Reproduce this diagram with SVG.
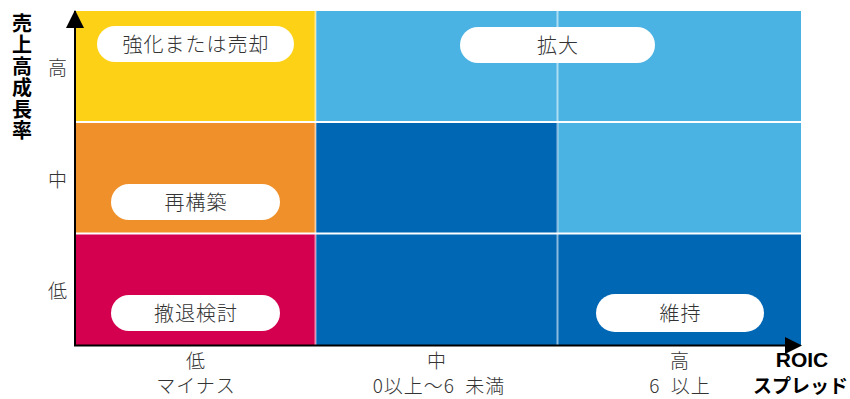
<svg xmlns="http://www.w3.org/2000/svg" width="850" height="399" viewBox="0 0 850 399">
<defs>
<style>
text{font-family:"Noto Sans CJK JP","Noto Sans",sans-serif;fill:#333;font-weight:300;}
.pill{fill:#fff;}
.pl{font-size:20px;letter-spacing:1px;text-anchor:middle;}
.ax{font-size:19px;letter-spacing:1px;text-anchor:middle;}
.ttl{font-weight:bold;fill:#000;}
.sep{stroke:#fff;stroke-width:2;}
.vsep{stroke:#fff;stroke-opacity:0.55;stroke-width:2;}
</style>
</defs>
<g id="cells">
<rect x="75" y="11" width="241" height="112" fill="#FDD116"/>
<rect x="316" y="11" width="242" height="112" fill="#4BB3E3"/>
<rect x="558" y="11" width="243" height="112" fill="#4BB3E3"/>
<rect x="75" y="123" width="241" height="111" fill="#F0902A"/>
<rect x="316" y="123" width="242" height="111" fill="#0067B5"/>
<rect x="558" y="123" width="243" height="111" fill="#4BB3E3"/>
<rect x="75" y="234" width="241" height="111" fill="#D4004F"/>
<rect x="316" y="234" width="242" height="111" fill="#0067B5"/>
<rect x="558" y="234" width="243" height="111" fill="#0067B5"/>
<line class="vsep" x1="315.5" y1="11" x2="315.5" y2="345"/>
<line class="vsep" x1="557.5" y1="11" x2="557.5" y2="345"/>
<line class="sep" x1="75" y1="122" x2="801" y2="122"/>
<line class="sep" x1="75" y1="233.5" x2="801" y2="233.5"/>
</g>
<g id="connectors">
<line x1="75" y1="346" x2="75" y2="11" stroke="#000" stroke-width="2"/>
<path d="M66,28 L75,10 L84,28 Z" fill="#000"/>
<line x1="74" y1="345.5" x2="786" y2="345.5" stroke="#000" stroke-width="2"/>
<path d="M785,337 L802,345.5 L785,354 Z" fill="#000"/>
</g>
<g id="n-kyouka"><rect class="pill" x="97" y="26" width="197" height="36" rx="18"/><text class="pl" x="196" y="51.5">強化または売却</text></g>
<g id="n-kakudai"><rect class="pill" x="460" y="27" width="195" height="36" rx="18"/><text class="pl" x="558" y="52.5">拡大</text></g>
<g id="n-saikouchiku"><rect class="pill" x="111" y="184" width="169" height="36" rx="18"/><text class="pl" x="196" y="209.5">再構築</text></g>
<g id="n-tettai"><rect class="pill" x="111" y="295" width="169" height="36" rx="18"/><text class="pl" x="196" y="320.5">撤退検討</text></g>
<g id="n-iji"><rect class="pill" x="596" y="294" width="168" height="38" rx="19"/><text class="pl" x="680.5" y="320.5">維持</text></g>
<g id="y-axis-labels">
<text class="ax" x="58" y="75">高</text>
<text class="ax" x="58" y="187">中</text>
<text class="ax" x="58" y="298">低</text>
<text class="ttl" x="22" y="13" style="writing-mode:vertical-rl;font-size:20px;letter-spacing:1.5px">売上高成長率</text>
</g>
<g id="x-axis-labels">
<text class="ax" x="196" y="368">低</text>
<text class="ax" x="196" y="393">マイナス</text>
<text class="ax" x="437" y="368">中</text>
<text class="ax" x="439" y="393" xml:space="preserve">0以上～6  未満</text>
<text class="ax" x="680" y="368">高</text>
<text class="ax" x="680" y="393" xml:space="preserve">6  以上</text>
<text class="ttl" x="802" y="367" style="font-family:'Liberation Sans',sans-serif;font-size:21px;text-anchor:middle">ROIC</text>
<text class="ttl" x="848" y="393" style="font-size:19px;text-anchor:end">スプレッド</text>
</g>
</svg>
